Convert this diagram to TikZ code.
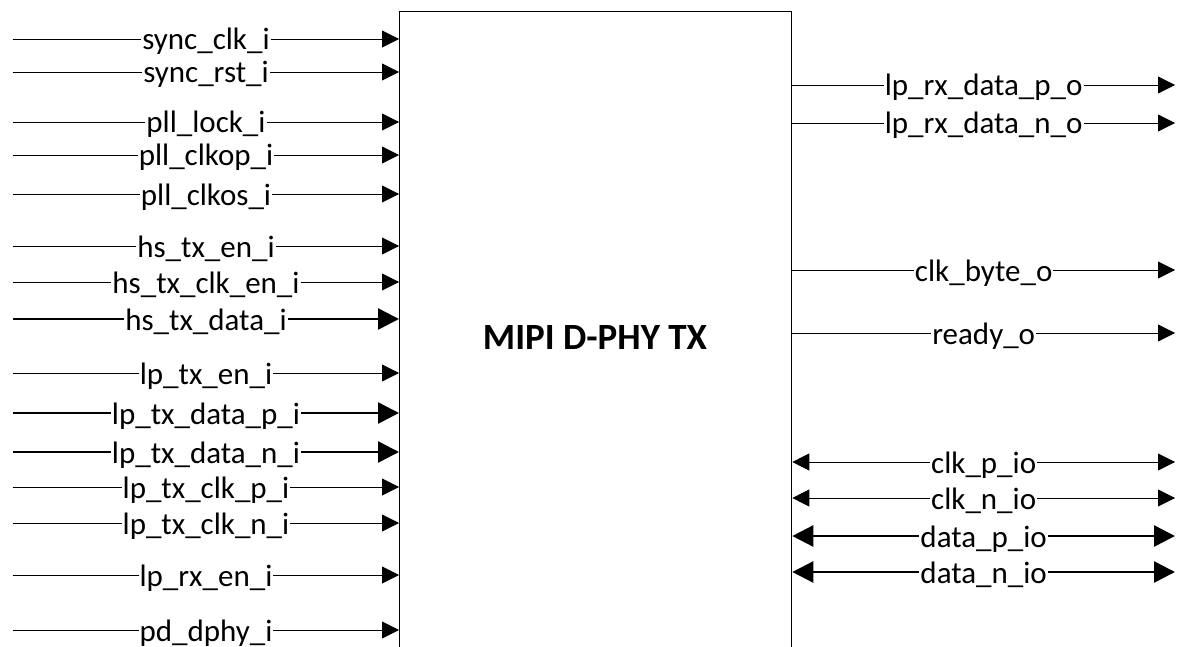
\documentclass[tikz,border=0pt]{standalone}
\usepackage{fontspec}
\setmainfont{Carlito}
\usetikzlibrary{arrows.meta}
\tikzset{
  sig/.style={line width=0.8pt, -{Triangle[length=17pt,width=17pt]}},
  bus/.style={line width=2.5pt, -{Triangle[length=21pt,width=21pt]}},
  bisig/.style={line width=0.8pt, {Triangle[length=17pt,width=17pt]}-{Triangle[length=17pt,width=17pt]}},
  bibus/.style={line width=2.5pt, {Triangle[length=21pt,width=21pt]}-{Triangle[length=21pt,width=21pt]}},
  lbl/.style={midway, fill=white, inner xsep=1pt, inner ysep=0pt, anchor=base, yshift=-11pt, font=\fontsize{31}{37}\selectfont},
  blk/.style={draw, line width=1.3pt, minimum width=392pt, minimum height=700pt, anchor=north west, inner sep=0pt}
}
\begin{document}
\begin{tikzpicture}[x=1pt,y=-1pt]
\useasboundingbox (0,0) rectangle (1177,647);
\clip (0,0) rectangle (1177,647);
\node[blk] (dphy) at (399,11) {};
\node[font=\fontsize{37}{44}\selectfont\bfseries] (title) at (595,338) {MIPI D-PHY TX};
% inputs
\coordinate (i1) at (13,39);
\coordinate (i2) at (13,72);
\coordinate (i3) at (13,122);
\coordinate (i4) at (13,155);
\coordinate (i5) at (13,194);
\coordinate (i6) at (13,246);
\coordinate (i7) at (13,282);
\coordinate (i8) at (13,319);
\coordinate (i9) at (13,373);
\coordinate (i10) at (13,413);
\coordinate (i11) at (13,452);
\coordinate (i12) at (13,487);
\coordinate (i13) at (13,523);
\coordinate (i14) at (13,575);
\coordinate (i15) at (13,630);
\draw[sig] (i1) -- (i1 -| dphy.west) node[lbl] {sync\_clk\_i};
\draw[sig] (i2) -- (i2 -| dphy.west) node[lbl] {sync\_rst\_i};
\draw[sig] (i3) -- (i3 -| dphy.west) node[lbl] {pll\_lock\_i};
\draw[sig] (i4) -- (i4 -| dphy.west) node[lbl] {pll\_clkop\_i};
\draw[sig] (i5) -- (i5 -| dphy.west) node[lbl] {pll\_clkos\_i};
\draw[sig] (i6) -- (i6 -| dphy.west) node[lbl] {hs\_tx\_en\_i};
\draw[sig] (i7) -- (i7 -| dphy.west) node[lbl] {hs\_tx\_clk\_en\_i};
\draw[bus] (i8) -- (i8 -| dphy.west) node[lbl] {hs\_tx\_data\_i};
\draw[sig] (i9) -- (i9 -| dphy.west) node[lbl] {lp\_tx\_en\_i};
\draw[bus] (i10) -- (i10 -| dphy.west) node[lbl] {lp\_tx\_data\_p\_i};
\draw[bus] (i11) -- (i11 -| dphy.west) node[lbl] {lp\_tx\_data\_n\_i};
\draw[sig] (i12) -- (i12 -| dphy.west) node[lbl] {lp\_tx\_clk\_p\_i};
\draw[sig] (i13) -- (i13 -| dphy.west) node[lbl] {lp\_tx\_clk\_n\_i};
\draw[sig] (i14) -- (i14 -| dphy.west) node[lbl] {lp\_rx\_en\_i};
\draw[sig] (i15) -- (i15 -| dphy.west) node[lbl] {pd\_dphy\_i};
% outputs
\coordinate (o1) at (1175,85);
\coordinate (o2) at (1175,123);
\coordinate (o3) at (1175,270);
\coordinate (o4) at (1175,333);
\coordinate (o5) at (1175,462);
\coordinate (o6) at (1175,498);
\coordinate (o7) at (1175,536);
\coordinate (o8) at (1175,572);
\draw[sig] (o1 -| dphy.east) -- (o1) node[lbl] {lp\_rx\_data\_p\_o};
\draw[sig] (o2 -| dphy.east) -- (o2) node[lbl] {lp\_rx\_data\_n\_o};
\draw[sig] (o3 -| dphy.east) -- (o3) node[lbl] {clk\_byte\_o};
\draw[sig] (o4 -| dphy.east) -- (o4) node[lbl] {ready\_o};
\draw[bisig] (o5 -| dphy.east) -- (o5) node[lbl] {clk\_p\_io};
\draw[bisig] (o6 -| dphy.east) -- (o6) node[lbl] {clk\_n\_io};
\draw[bibus] (o7 -| dphy.east) -- (o7) node[lbl] {data\_p\_io};
\draw[bibus] (o8 -| dphy.east) -- (o8) node[lbl] {data\_n\_io};
\end{tikzpicture}
\end{document}
